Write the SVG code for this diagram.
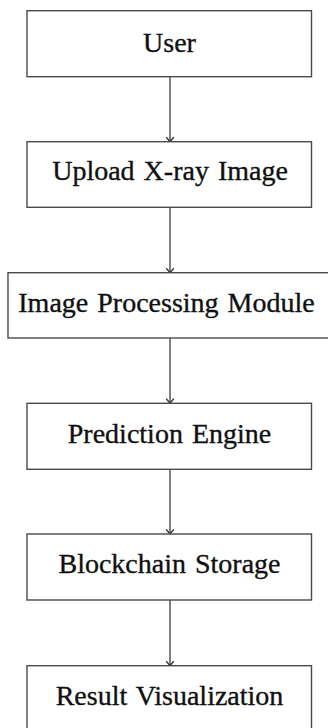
<svg xmlns="http://www.w3.org/2000/svg" width="328" height="728" viewBox="0 0 328 728">
  <style>
    .box { fill: #ffffff; stroke: #4a4a4a; stroke-width: 1.4; }
    .label { font-family: "Liberation Serif", "Times New Roman", serif; font-size: 28px; fill: #101010; stroke: #101010; stroke-width: 0.35; text-anchor: middle; word-spacing: 2px; }
    .edge { stroke: #4a4a4a; stroke-width: 1.4; fill: none; marker-end: url(#tip); }
  </style>
  <defs>
    <!-- small curved arrow tip, pointing along the connector -->
    <marker id="tip" viewBox="-8 -6 12 12" markerWidth="12" markerHeight="12" refX="0" refY="0" orient="auto" markerUnits="userSpaceOnUse">
      <path d="M -4.5 -3.8 Q -1.2 -0.8 0 0 Q -1.2 0.8 -4.5 3.8" fill="none" stroke="#333" stroke-width="1.3"/>
    </marker>
  </defs>
  <rect width="328" height="728" fill="#ffffff"/>

  <g id="connectors">
    <path class="edge" d="M170 76.7 V141.7"/>
    <path class="edge" d="M170 207.3 V272.7"/>
    <path class="edge" d="M170 338 V403.3"/>
    <path class="edge" d="M170 469.3 V534"/>
    <path class="edge" d="M170 600 V665.7"/>
  </g>

  <g id="user">
    <rect class="box" x="27" y="10.7" width="284.5" height="66"/>
    <text class="label" x="169.5" y="51.7">User</text>
  </g>
  <g id="upload">
    <rect class="box" x="27" y="141.7" width="284.5" height="65.6"/>
    <text class="label" x="170" y="180">Upload X-ray Image</text>
  </g>
  <g id="processing">
    <rect class="box" x="8" y="272.7" width="324" height="65.3"/>
    <text class="label" x="166.5" y="311.7">Image Processing Module</text>
  </g>
  <g id="prediction">
    <rect class="box" x="27" y="403.3" width="284.5" height="66"/>
    <text class="label" x="169.5" y="442.7">Prediction Engine</text>
  </g>
  <g id="blockchain">
    <rect class="box" x="27" y="534" width="284.5" height="66"/>
    <text class="label" x="169.5" y="572.7">Blockchain Storage</text>
  </g>
  <g id="result">
    <rect class="box" x="27" y="665.7" width="284.5" height="66"/>
    <text class="label" x="169.5" y="705">Result Visualization</text>
  </g>
</svg>
